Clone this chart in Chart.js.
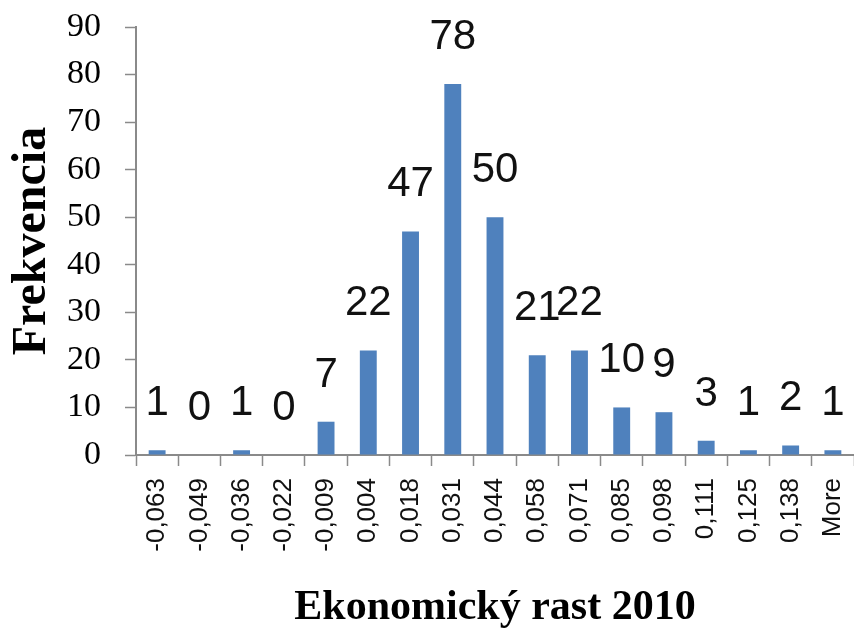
<!DOCTYPE html>
<html>
<head>
<meta charset="utf-8">
<script src="https://cdn.jsdelivr.net/npm/chart.js@4/dist/chart.umd.min.js"></script>
<style>
  html, body { margin: 0; padding: 0; background: #fff; }
  #wrap { width: 854px; height: 635px; }
</style>
</head>
<body>
<div id="wrap"><canvas id="chart" width="854" height="635"></canvas></div>
<script>
// Dáta histogramu
const binLabels = ['-0,063', '-0,049', '-0,036', '-0,022', '-0,009', '0,004', '0,018', '0,031',
    '0,044', '0,058', '0,071', '0,085', '0,098', '0,111', '0,125', '0,138', 'More'];
const frequencies = [1, 0, 1, 0, 7, 22, 47, 78, 50, 21, 22, 10, 9, 3, 1, 2, 1];
const yTicks = [0, 10, 20, 30, 40, 50, 60, 70, 80, 90];

const axisGray = '#8a8a8a';

// popisky hodnôt nad stĺpcami
const valueLabels = {
    id: 'valueLabels',
    afterDatasetsDraw(chart) {
        const ctx = chart.ctx;
        const meta = chart.getDatasetMeta(0);
        ctx.save();
        ctx.font = "42px 'Liberation Sans', sans-serif";
        ctx.fillStyle = '#111';
        ctx.textAlign = 'center';
        ctx.textBaseline = 'alphabetic';
        meta.data.forEach((bar, i) => {
            ctx.fillText(String(frequencies[i]), bar.x, bar.y - 35);
        });
        ctx.restore();
    }
};

new Chart(document.getElementById('chart'), {
    type: 'bar',
    data: {
        labels: binLabels,
        datasets: [{
            data: frequencies,
            backgroundColor: '#4f81bd',
            barPercentage: 0.4,
            categoryPercentage: 1.0
        }]
    },
    options: {
        responsive: false,
        animation: false,
        devicePixelRatio: 1,
        layout: { padding: { top: 27, right: 0, left: 0, bottom: 0 } },
        plugins: {
            legend: { display: false },
            tooltip: { enabled: false }
        },
        scales: {
            x: {
                offset: true,
                grid: {
                    offset: true,
                    drawOnChartArea: false,
                    drawTicks: true,
                    tickLength: 11,
                    tickWidth: 1.5,
                    tickColor: axisGray
                },
                border: { color: axisGray, width: 2 },
                ticks: {
                    minRotation: 90,
                    maxRotation: 90,
                    autoSkip: false,
                    padding: 12,
                    color: '#111',
                    font: { family: "'Liberation Sans'", size: 26 }
                },
                title: {
                    display: true,
                    text: 'Ekonomický rast 2010',
                    color: '#000',
                    font: { family: "'Liberation Serif'", size: 42, weight: 'bold', lineHeight: 1 },
                    padding: { top: 0, bottom: 6 }
                },
                afterFit(scale) {
                    scale.height = 180;
                    scale.paddingLeft = 0;
                    scale.paddingRight = 0;
                }
            },
            y: {
                min: 0,
                max: 90,
                afterBuildTicks(scale) { scale.ticks = yTicks.map(v => ({ value: v })); },
                grid: {
                    drawOnChartArea: false,
                    drawTicks: true,
                    tickLength: 11,
                    tickWidth: 1.5,
                    tickColor: axisGray
                },
                border: { color: axisGray, width: 2 },
                ticks: {
                    padding: 24,
                    color: '#000',
                    font: { family: "'Liberation Serif'", size: 34 }
                },
                title: {
                    display: true,
                    text: 'Frekvencia',
                    color: '#000',
                    font: { family: "'Liberation Serif'", size: 48, weight: 'bold', lineHeight: 1 },
                    padding: { top: 9, bottom: 0 }
                },
                afterFit(scale) {
                    scale.width = 136;
                    scale.paddingTop = 0;
                    scale.paddingBottom = 0;
                }
            }
        }
    },
    plugins: [valueLabels]
});
</script>
</body>
</html>
